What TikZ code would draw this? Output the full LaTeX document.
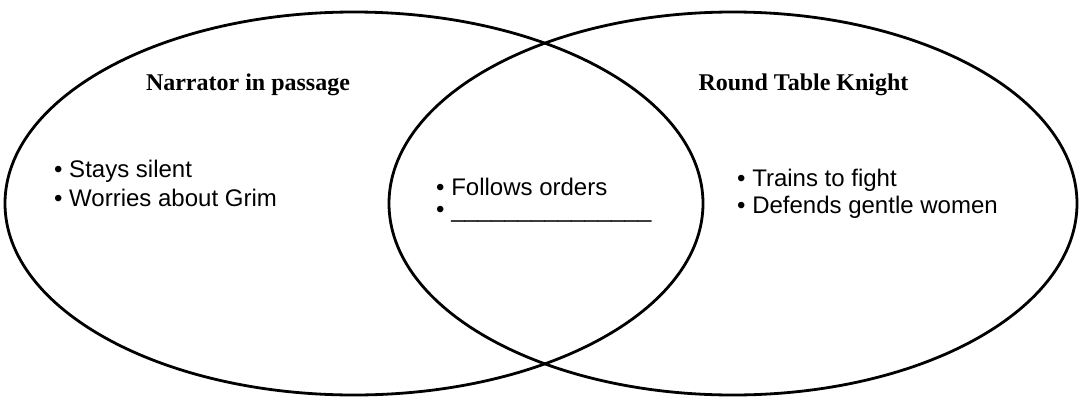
\documentclass[tikz,border=0pt]{standalone}
\usepackage{fontspec}
\setmainfont{Liberation Serif}
\setsansfont{Liberation Sans}
\begin{document}
\begin{tikzpicture}[x=1pt,y=-1pt,
  ring/.style={line width=2.8pt},
  title/.style={font=\fontsize{24}{28}\selectfont\bfseries\rmfamily, inner sep=0pt, anchor=base},
  item/.style={font=\fontsize{24}{28}\selectfont\sffamily, inner sep=0pt, anchor=base west}]
\useasboundingbox (0,0) rectangle (1079,397);
\fill[white] (0,0) rectangle (1079,397);
% circles
\draw[ring] (354,203.5) ellipse [x radius=349, y radius=191.5];
\draw[ring] (733,203.5) ellipse [x radius=344, y radius=191.5];
% titles
\node[title] (tl) at (248,90.5) {Narrator in passage};
\node[title] (tr) at (803.5,90.5) {Round Table Knight};
% left items
\node[item] (l1) at (54,177) {• Stays silent};
\node[item] (l2) at (54,206.5) {• Worries about Grim};
% middle items
\node[item] (m1) at (436,195) {• Follows orders};
\node[item] (m2) at (436,217) {• \_\_\_\_\_\_\_\_\_\_\_\_\_\_\_};
% right items
\node[item] (r1) at (737,186.5) {• Trains to fight};
\node[item] (r2) at (737,213.5) {• Defends gentle women};
\end{tikzpicture}
\end{document}
